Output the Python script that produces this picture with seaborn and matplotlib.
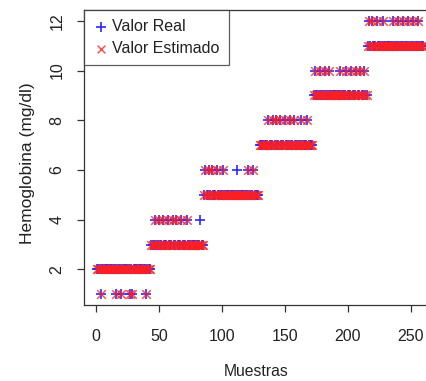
import matplotlib
matplotlib.use("Agg")
import matplotlib.pyplot as plt
import seaborn as sns
import pandas as pd
import numpy as np

# sample index 1..260
real_values = [
    2, 2, 2, 1, 2, 2, 2, 2, 2, 2,
    2, 2, 2, 2, 2, 1, 2, 2, 2, 1,
    2, 2, 2, 2, 2, 2, 1, 2, 1, 2,
    2, 2, 2, 2, 2, 2, 2, 2, 2, 1,
    2, 2, 2, 3, 3, 3, 4, 3, 3, 4,
    3, 3, 4, 3, 3, 3, 4, 3, 3, 3,
    4, 3, 3, 4, 3, 3, 3, 4, 3, 3,
    3, 4, 3, 3, 3, 3, 3, 3, 3, 3,
    3, 3, 4, 3, 3, 5, 6, 5, 5, 6,
    5, 6, 5, 5, 5, 6, 5, 5, 5, 5,
    6, 5, 5, 5, 5, 5, 5, 5, 5, 5,
    5, 6, 5, 5, 5, 5, 5, 5, 5, 5,
    6, 5, 5, 5, 6, 5, 5, 5, 5, 7,
    7, 7, 7, 7, 7, 7, 8, 7, 7, 7,
    8, 7, 8, 7, 7, 8, 7, 7, 7, 8,
    7, 7, 7, 8, 7, 7, 8, 7, 7, 7,
    7, 7, 8, 7, 7, 7, 7, 8, 7, 7,
    7, 7, 9, 10, 9, 9, 9, 10, 9, 9,
    9, 10, 9, 9, 10, 9, 9, 9, 9, 9,
    9, 9, 9, 10, 9, 9, 9, 9, 10, 9,
    9, 9, 10, 9, 9, 9, 10, 9, 9, 10,
    9, 9, 10, 9, 9, 11, 12, 11, 12, 11,
    11, 11, 12, 11, 11, 11, 11, 12, 11, 11,
    11, 11, 11, 11, 11, 12, 11, 11, 11, 12,
    11, 11, 11, 12, 11, 11, 11, 12, 11, 11,
    11, 12, 11, 11, 11, 12, 11, 11, 11, 11,
]

estimated_values = [
    2, 2, 2, 1, 2, 2, 2, 2, 2, 2,
    2, 2, 2, 2, 2, 1, 2, 2, 2, 1,
    2, 2, 2, 2, 2, 2, 1, 2, 1, 2,
    2, 2, 2, 2, 2, 2, 2, 2, 2, 1,
    2, 2, 2, 3, 3, 3, 4, 3, 3, 4,
    3, 3, 4, 3, 3, 3, 4, 3, 3, 3,
    4, 3, 3, 4, 3, 3, 3, 4, 3, 3,
    3, 4, 3, 3, 3, 3, 3, 3, 3, 3,
    3, 3, 3, 3, 3, 5, 6, 5, 5, 6,
    5, 6, 5, 5, 5, 6, 5, 5, 5, 5,
    6, 5, 5, 5, 5, 5, 5, 5, 5, 5,
    5, 5, 5, 5, 5, 5, 5, 5, 5, 5,
    6, 5, 5, 5, 6, 5, 5, 5, 5, 7,
    7, 7, 7, 7, 7, 7, 8, 7, 7, 7,
    8, 7, 8, 7, 7, 8, 7, 7, 7, 8,
    7, 7, 7, 8, 7, 7, 8, 7, 7, 7,
    7, 7, 8, 7, 7, 7, 7, 8, 7, 7,
    7, 7, 9, 10, 9, 9, 9, 10, 9, 9,
    9, 10, 9, 9, 10, 9, 9, 9, 9, 9,
    9, 9, 9, 10, 9, 9, 9, 9, 10, 9,
    9, 9, 10, 9, 9, 9, 10, 9, 9, 10,
    9, 9, 10, 9, 9, 11, 12, 11, 12, 11,
    11, 11, 12, 11, 11, 11, 11, 12, 11, 11,
    11, 11, 11, 11, 11, 12, 11, 11, 11, 12,
    11, 11, 11, 12, 11, 11, 11, 12, 11, 11,
    11, 12, 11, 11, 11, 12, 11, 11, 11, 11,
]

sample_index = list(range(1, len(real_values) + 1))
x_ticks = [0, 50, 100, 150, 200, 250]
y_ticks = [2, 4, 6, 8, 10, 12]
series_names = ["Valor Real", "Valor Estimado"]
x_label = "Muestras"
y_label = "Hemoglobina (mg/dl)"

sns.set_style("ticks")
plt.rcParams["font.family"] = ["Liberation Sans", "DejaVu Sans"]

fig = plt.figure(figsize=(4.26, 3.81), dpi=100)
ax = fig.add_axes([0.197, 0.199, 0.826, 0.775])

df_real = pd.DataFrame({"Muestra": sample_index, "Valor": real_values})
df_est = pd.DataFrame({"Muestra": sample_index, "Valor": estimated_values})

sns.scatterplot(data=df_real, x="Muestra", y="Valor", marker="+", color="#2a2aff",
                s=60, linewidth=1.2, ax=ax, label=series_names[0], zorder=3)
sns.scatterplot(data=df_est, x="Muestra", y="Valor", marker="x", color="#ff1f1f",
                s=38, linewidth=1.1, alpha=0.78, ax=ax, label=series_names[1], zorder=4)

ax.set_xlim(-9.5, 270)
ax.set_ylim(0.56, 12.44)
ax.set_xticks(x_ticks)
ax.set_yticks(y_ticks)
ax.set_xticklabels([str(v) for v in x_ticks], fontsize=11.5, color="#222222")
ax.set_yticklabels([str(v) for v in y_ticks], fontsize=11.5, color="#222222",
                   rotation=90, va="center")
ax.tick_params(axis="both", direction="out", length=5.0, width=0.9, color="#333333",
               bottom=True, left=True)
ax.tick_params(axis="x", pad=12)
ax.tick_params(axis="y", pad=9)

for sp in ax.spines.values():
    sp.set_visible(True)
    sp.set_color("#333333")
    sp.set_linewidth(0.9)

ax.set_xlabel(x_label, fontsize=11.3, color="#222222", va="center")
ax.set_ylabel(y_label, fontsize=12.5, color="#222222", va="center")
ax.xaxis.set_label_coords(0.49, -0.224)
ax.yaxis.set_label_coords(-0.159, 0.48)

leg = ax.legend(loc="upper left", bbox_to_anchor=(0.0, 1.0), borderaxespad=0.0,
                frameon=True, fancybox=False, fontsize=11.5, handletextpad=0.15,
                borderpad=0.6, labelspacing=0.4, handlelength=1.0,
                markerscale=0.9)
leg.get_frame().set_edgecolor("#333333")
leg.get_frame().set_linewidth(0.9)
for t in leg.get_texts():
    t.set_color("#222222")

fig.savefig("out.png", dpi=100)
